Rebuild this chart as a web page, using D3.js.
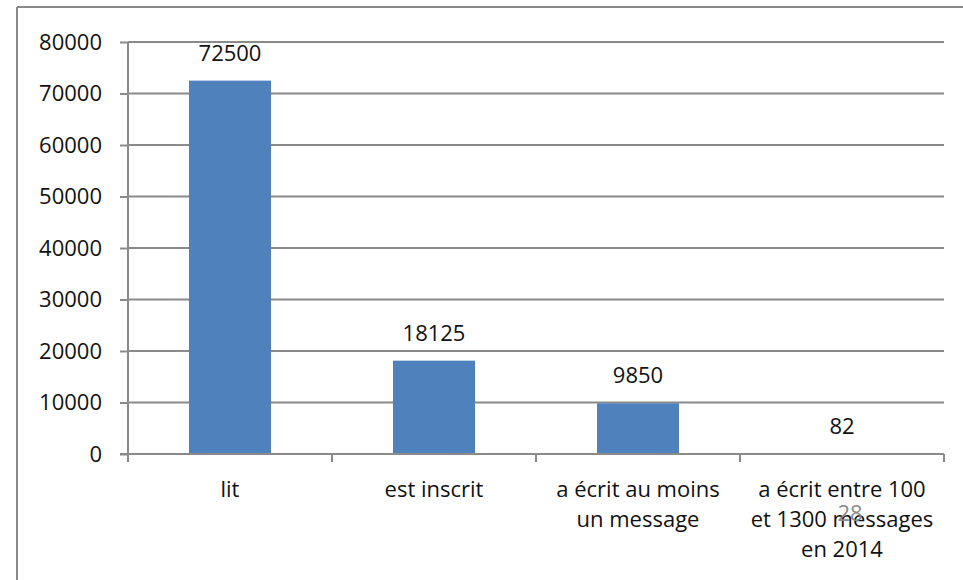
<!DOCTYPE html>
<html><head><meta charset="utf-8">
<script src="https://cdn.jsdelivr.net/npm/d3@7"></script>
<style>body{margin:0;background:#fff}svg{display:block}</style>
</head><body>
<svg id="c" width="963" height="580"></svg>
<script>
const categories = [["lit"], ["est inscrit"], ["a écrit au moins", "un message"], ["a écrit entre 100", "et 1300 messages", "en 2014"]];
const values = [72500, 18125, 9850, 82];
const yTicks = [0, 10000, 20000, 30000, 40000, 50000, 60000, 70000, 80000];

const svg = d3.select("#c");
const font = "'Open Sans', sans-serif";
const grey = "#8a8a8a";
const pLeft = 128, pRight = 944, pTop = 42, pBottom = 454;
const fs = 22;

// outer frame
svg.append("line").attr("x1", 17).attr("x2", 963).attr("y1", 7).attr("y2", 7).attr("stroke", grey).attr("stroke-width", 2);
svg.append("line").attr("x1", 17).attr("x2", 17).attr("y1", 7).attr("y2", 580).attr("stroke", grey).attr("stroke-width", 2);

const x = d3.scaleBand().domain(d3.range(values.length)).range([pLeft, pRight]).paddingInner(0).paddingOuter(0);
const y = d3.scaleLinear().domain([0, 80000]).range([pBottom, pTop]);

// gridlines
svg.append("g").selectAll("line").data(yTicks.filter(d => d > 0)).join("line")
  .attr("x1", pLeft).attr("x2", pRight).attr("y1", d => y(d)).attr("y2", d => y(d))
  .attr("stroke", grey).attr("stroke-width", 2);

// y axis
const ya = svg.append("g").attr("transform", `translate(${pLeft},0)`)
  .call(d3.axisLeft(y).tickValues(yTicks).tickSize(8).tickPadding(18).tickFormat(d3.format("d")));
ya.select(".domain").attr("stroke", grey).attr("stroke-width", 2).attr("d", `M0,${pTop}V${pBottom}`);
ya.selectAll(".tick line").attr("stroke", grey).attr("stroke-width", 2);
ya.selectAll(".tick text").attr("font-family", font).attr("font-size", fs).attr("fill", "#111");

// bars
const bw = 82;
svg.append("g").selectAll("rect").data(values).join("rect")
  .attr("x", (d, i) => x(i) + x.bandwidth() / 2 - bw / 2)
  .attr("width", bw)
  .attr("y", d => y(d))
  .attr("height", d => pBottom - y(d))
  .attr("fill", "#4f81bd");

// x axis
const xa = svg.append("g");
xa.append("line").attr("x1", pLeft - 8).attr("x2", pRight).attr("y1", pBottom).attr("y2", pBottom).attr("stroke", grey).attr("stroke-width", 2);
const edges = d3.range(values.length + 1).map(i => pLeft + i * x.bandwidth());
xa.selectAll("line.t").data(edges).join("line").attr("class", "t")
  .attr("x1", d => d).attr("x2", d => d).attr("y1", pBottom).attr("y2", pBottom + 8)
  .attr("stroke", grey).attr("stroke-width", 2);

// category labels
const cl = svg.append("g").selectAll("text").data(categories).join("text")
  .attr("font-family", font).attr("font-size", fs).attr("text-anchor", "middle").attr("fill", "#111")
  .attr("x", (d, i) => x(i) + x.bandwidth() / 2)
  .attr("y", 497);
cl.selectAll("tspan").data(d => d).join("tspan")
  .attr("x", function() { return this.parentNode.getAttribute("x"); })
  .attr("dy", (d, j) => j === 0 ? 0 : 30)
  .text(d => d);

// value labels
svg.append("g").selectAll("text").data(values).join("text")
  .attr("font-family", font).attr("font-size", fs).attr("text-anchor", "middle").attr("fill", "#111")
  .attr("x", (d, i) => x(i) + x.bandwidth() / 2)
  .attr("y", d => y(d) - 20)
  .text(d => d);

// page number
svg.append("text").attr("x", 850).attr("y", 521).attr("text-anchor", "middle")
  .attr("font-family", font).attr("font-size", 22).attr("fill", "#8a8a8a").text("28");
</script>
</body></html>
